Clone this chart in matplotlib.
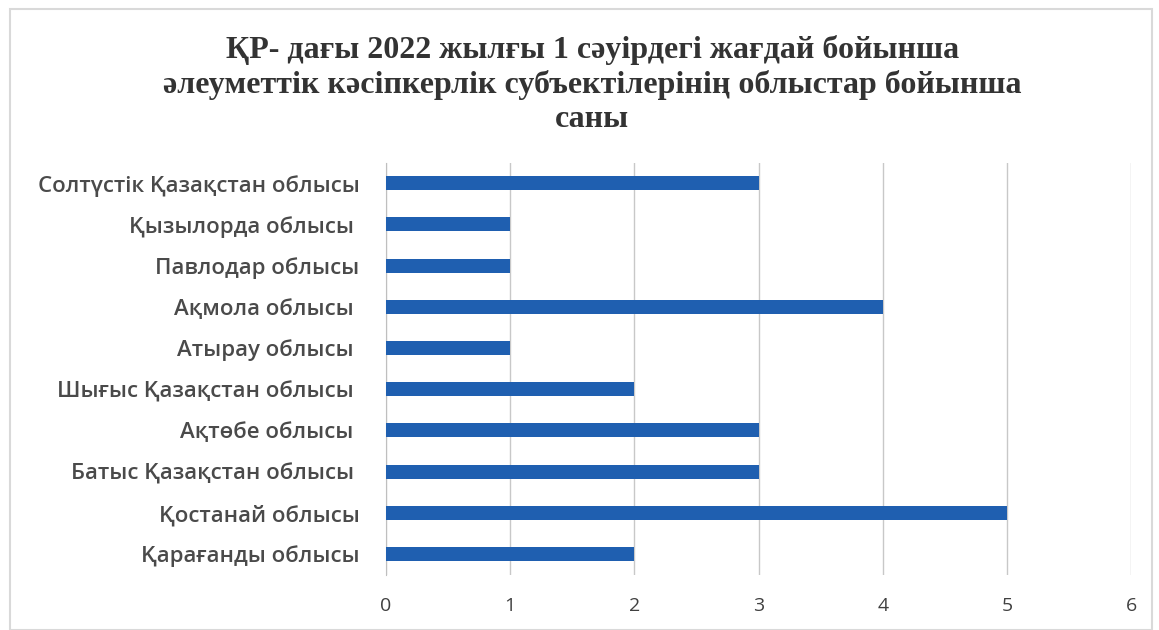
import numpy as np
import matplotlib.pyplot as plt
from matplotlib.patches import Rectangle

# Data (bottom to top, as drawn)
regions = ['Қарағанды облысы', 'Қостанай облысы', 'Батыс Қазақстан облысы ',
           'Ақтөбе облысы ', 'Шығыс Қазақстан облысы ', 'Атырау облысы ',
           'Ақмола облысы ', 'Павлодар облысы', 'Қызылорда облысы ',
           'Солтүстік Қазақстан облысы']
counts = [2, 5, 3, 3, 2, 1, 4, 1, 1, 3]
xticks = [0, 1, 2, 3, 4, 5, 6]

title = ('ҚР- дағы 2022 жылғы 1 сәуірдегі жағдай бойынша\n'
         'әлеуметтік кәсіпкерлік субъектілерінің облыстар бойынша\n'
         'саны')

fig = plt.figure(figsize=(11.59, 6.3), dpi=100)
ax = fig.add_axes([0.333, 0.088, 0.643, 0.654])

y = np.arange(len(regions))
ax.barh(y, counts, height=0.34, color='#1f5fb0', zorder=3)

ax.set_xlim(0, 6)
ax.set_ylim(-0.5, len(regions) - 0.5)
ax.set_xticks(xticks)
ax.set_xticklabels([str(t) for t in xticks], fontsize=14, color='#404040',
                   family='Open Sans')
ax.set_yticks(y)
ax.set_yticklabels(regions, fontsize=16, fontweight='semibold', color='#4a4a4a',
                   family='Open Sans')
ax.tick_params(axis='both', length=0)
ax.tick_params(axis='x', pad=16)
ax.tick_params(axis='y', pad=19)

ax.grid(axis='x', color='#c8c8c8', linewidth=1, zorder=0)
for s in ['top', 'right', 'bottom']:
    ax.spines[s].set_visible(False)
ax.spines['left'].set_color('#bfbfbf')

fig.text(0.511, 0.945, title, ha='center', va='top', fontsize=23,
         fontweight='bold', family='Liberation Serif', color='#333333',
         linespacing=1.22)

# light frame around the chart
fig.patches.append(Rectangle((0.009, 0.0), 0.985, 0.985, transform=fig.transFigure,
                             fill=False, edgecolor='#d9d9d9', linewidth=1.5))

fig.savefig('out.png', dpi=100)
